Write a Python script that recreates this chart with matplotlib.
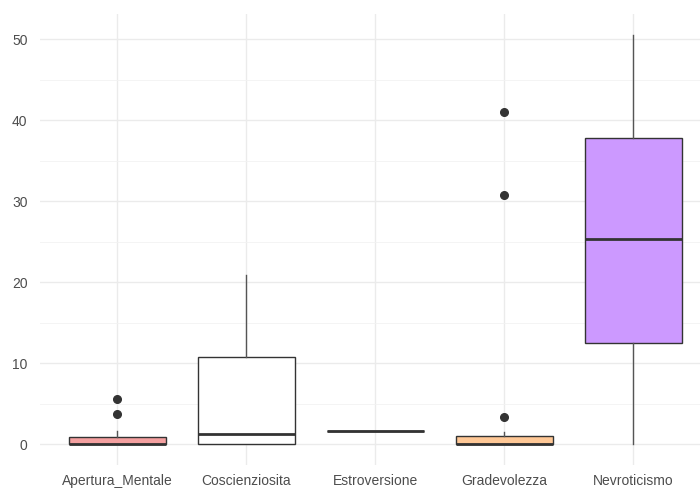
import matplotlib.pyplot as plt

plt.rcParams['font.family'] = ['Liberation Sans', 'DejaVu Sans']

# Big Five trait scores summarised as box statistics
traits = ['Apertura_Mentale', 'Coscienziosita', 'Estroversione', 'Gradevolezza', 'Nevroticismo']
q1 = [0.0, 0.0, 1.6, 0.0, 12.5]
median = [0.0, 1.2, 1.6, 0.0, 25.3]
q3 = [0.9, 10.8, 1.6, 1.0, 37.8]
whisker_low = [0.0, 0.0, 1.6, 0.0, 0.0]
whisker_high = [1.6, 20.9, 1.6, 1.5, 50.5]
outliers = [[3.7, 5.6], [], [], [3.4, 30.8, 41.0], []]
fills = ['#F4A0A0', '#FFFFFF', '#A0C0F0', '#FFC896', '#CC99FF']

stats = []
for i, name in enumerate(traits):
    stats.append({'label': name, 'q1': q1[i], 'med': median[i], 'q3': q3[i],
                  'whislo': whisker_low[i], 'whishi': whisker_high[i],
                  'fliers': outliers[i]})

fig = plt.figure(figsize=(7, 4.9), dpi=100)
ax = fig.add_axes([40 / 700, 1 - 464.5 / 490, 660 / 700, 450 / 490])

positions = list(range(1, len(traits) + 1))
bp = ax.bxp(stats, positions=positions, widths=0.75, patch_artist=True, showcaps=False,
            boxprops={'edgecolor': '#333333', 'linewidth': 1.0},
            medianprops={'color': '#333333', 'linewidth': 2.0},
            whiskerprops={'color': '#555555', 'linewidth': 1.0},
            flierprops={'marker': 'o', 'markerfacecolor': '#333333', 'markeredgecolor': '#333333',
                        'markersize': 5.5})
for patch, c in zip(bp['boxes'], fills):
    patch.set_facecolor(c)
    patch.set_zorder(2)

ax.set_xlim(0.4, 0.4 + 660 / 129)
ax.set_ylim(-2.525, 53.03)
ax.set_yticks([0, 10, 20, 30, 40, 50])
ax.set_yticks([5, 15, 25, 35, 45], minor=True)
ax.set_xticks(positions)
ax.set_xticklabels(traits)

ax.grid(True, which='major', color='#EBEBEB', linewidth=1.0, zorder=0)
ax.grid(True, which='minor', axis='y', color='#F2F2F2', linewidth=0.6, zorder=0)
ax.set_axisbelow(True)
for s in ax.spines.values():
    s.set_visible(False)
ax.tick_params(which='both', length=0, labelsize=10, labelcolor='#4D4D4D', pad=7)
ax.tick_params(axis='y', pad=9)

fig.savefig('out.png', dpi=100)
